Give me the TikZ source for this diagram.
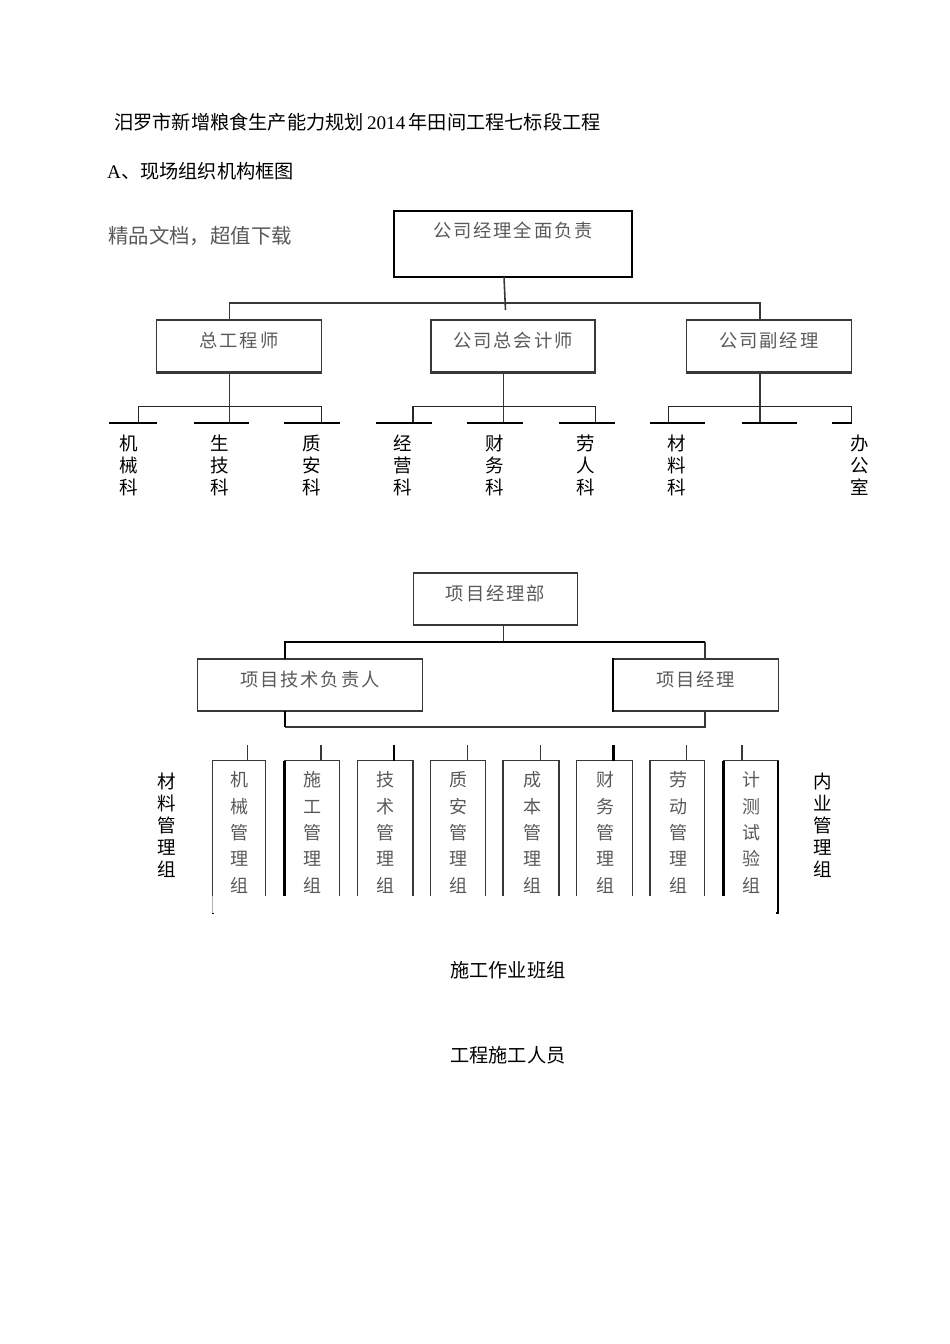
\documentclass[tikz,border=0pt]{standalone}
\usepackage{fontspec}
\setmainfont{Liberation Serif}
\newfontfamily\cjk{Noto Sans CJK SC}
\newfontfamily\cjkwide[LetterSpace=10]{Noto Sans CJK SC}
\definecolor{scanline}{gray}{0.22}
\definecolor{scantext}{gray}{0.35}
\tikzset{
    orgbox/.style={draw=scanline, line width=1.2pt, inner sep=0pt, text=scantext,
        font=\cjkwide\fontsize{18.3}{20}\selectfont, text height=27pt, text depth=25pt},
    topbox/.style={orgbox, draw=black, line width=2.4pt, minimum width=238pt, text height=26pt, text depth=40pt},
    deptlabel/.style={inner sep=0pt, align=center, font=\cjk\fontsize{18.5}{22}\selectfont},
    grouplabel/.style={inner sep=0pt, align=center, text=scantext, font=\cjk\fontsize{18}{26.3}\selectfont},
    plaintext/.style={inner sep=0pt, anchor=west, font=\fontsize{19.2}{22}\selectfont},
    conn/.style={draw=scanline, line width=1.2pt},
    heavy/.style={draw=black, line width=2.4pt}
}
\begin{document}
\begin{tikzpicture}[x=1pt, y=-1pt, line join=miter, line cap=butt]
    \useasboundingbox (0,0) rectangle (950,1344);
    % headings
    \node[plaintext] (title) at (114,122) {\cjk 汨罗市新增粮食生产能力规划\,\rmfamily 2014\,\cjk 年田间工程七标段工程};
    \node[plaintext] (subtitle) at (107,171) {A\cjk 、现场组织机构框图};
    \node[plaintext, text=scantext, font=\cjk\fontsize{20.4}{24}\selectfont] (ad) at (108,236) {精品文档，超值下载};
    % upper chart
    \node[topbox] (boss) at (513,244) {公司经理全面负责};
    \node[orgbox, minimum width=165pt] (chief) at (239,346) {总工程师};
    \node[orgbox, minimum width=164pt] (acct) at (513,346) {公司总会计师};
    \node[orgbox, minimum width=165pt] (vice) at (769,346) {公司副经理};
    \foreach \n in {chief,acct,vice}{
        \draw[line width=2.2pt, draw=scanline] (\n.south west)--(\n.south east);}
    \coordinate (bossfoot) at (504,277);
    \coordinate (busend) at (505.5,310);
    \coordinate (busl) at (229.5,303);
    \coordinate (busr) at (760,303);
    \draw[conn, line width=1.6pt] (bossfoot)--(busend);
    \draw[conn] (229.5,320)--(busl)--(busr)--(760,320);
    % stems and branches
    \foreach \n/\s/\l/\r in {chief/229.5/138.3/321.7, acct/503.5/413/595.3, vice/760/668.3/851.5}{
        \coordinate (top\n) at (\s,372);
        \coordinate (foot\n) at (\s,423);
        \draw[conn] (top\n)--(foot\n);
        \draw[conn, draw=black!85] (\l,423)--(\l,406.7)--(\r,406.7)--(\r,423);}
    \foreach \a/\b in {109/157, 193.5/248.5, 284/340, 375.5/431.5, 467/523, 558.5/615, 650/705, 741.5/796.5, 832/851.5}{
        \draw[black, line width=1.2pt] (\a,423)--(\b,423);}
    \foreach \x/\t/\n in {129/机\\械\\科/d1, 220/生\\技\\科/d2, 312/质\\安\\科/d3, 403/经\\营\\科/d4,
        495/财\\务\\科/d5, 586/劳\\人\\科/d6, 677/材\\料\\科/d7, 860/办\\公\\室/d8}{
        \node[deptlabel] (\n) at (\x,465) {\t};}
    % lower chart
    \node[orgbox, minimum width=164pt] (pm) at (495.3,599) {项目经理部};
    \node[orgbox, minimum width=225pt] (tech) at (310,685) {项目技术负责人};
    \node[orgbox, minimum width=165pt] (mgr) at (695.8,685) {项目经理};
    \draw[heavy] (mgr.north west)--(mgr.south west);
    \coordinate (pmfoot) at (503.5,625);
    \coordinate (pmbus) at (503.5,642);
    \coordinate (upl) at (285,659);
    \coordinate (upr) at (705,659);
    \coordinate (lowl) at (285,711);
    \coordinate (lowr) at (705,711);
    \draw[conn] (pmfoot)--(pmbus);
    \draw[conn] (upr)--(705,642);
    \draw[heavy] (upl)--(285,642)--(705,642);
    \draw[conn] (285,727)--(705,727)--(lowr);
    \draw[heavy] (lowl)--(285,727);
    % groups: left, right, stem, text
    \foreach \i/\l/\r/\s/\x/\t in {1/212.3/265.7/247.7/239/机\\械\\管\\理\\组,
        2/284.6/339.3/321/312/施\\工\\管\\理\\组,
        3/357.3/413/394/385/技\\术\\管\\理\\组,
        4/430.7/485.3/467.3/458/质\\安\\管\\理\\组,
        5/503/559/540.7/532/成\\本\\管\\理\\组,
        6/576.7/632.3/613.3/605/财\\务\\管\\理\\组,
        7/650/704.7/686.3/678/劳\\动\\管\\理\\组,
        8/723.3/778/742/751/计\\测\\试\\验\\组}{
        \node[grouplabel] (group\i) at (\x,832.5) {\t};
        \coordinate (gs\i) at (\s,745);
        \coordinate (gt\i) at (\s,760.5);
        \draw[conn] (\l,895.7)--(\l,760.5)--(\r,760.5)--(\r,895.7);
        \draw[conn] (gs\i)--(gt\i);}
    \foreach \i in {3,6}{\draw[heavy] (gs\i)--(gt\i);}
    \draw[heavy] (284.6,760.5)--(284.6,895.7);
    \draw[heavy] (723.3,760.5)--(723.3,895.7);
    \draw[draw=gray!60, line width=1pt] (212.3,895.7)--(212.3,913);
    \draw[draw=black, line width=1.6pt] (778,760.5)--(778,913)--(776,913);
    \draw[black, line width=1pt] (212,913)--(214,913);
    \node[deptlabel] (matl) at (167,825.5) {材\\料\\管\\理\\组};
    \node[deptlabel] (inner) at (823,825.5) {内\\业\\管\\理\\组};
    \node[plaintext, font=\cjk\fontsize{19.2}{22}\selectfont] (crew) at (450,970) {施工作业班组};
    \node[plaintext, font=\cjk\fontsize{19.2}{22}\selectfont] (staff) at (450,1055) {工程施工人员};
\end{tikzpicture}
\end{document}
